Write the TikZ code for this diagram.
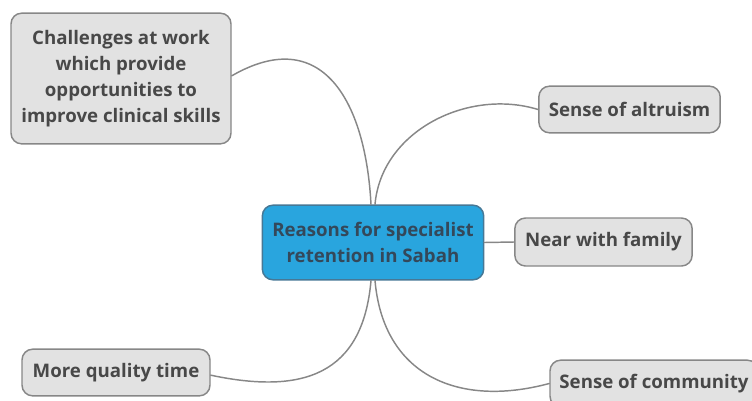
\documentclass[tikz,border=0pt]{standalone}
\usepackage{fontspec}
\setmainfont{Open Sans}
\definecolor{ebebeb}{RGB}{226,226,226}
\definecolor{grline}{RGB}{135,135,135}
\definecolor{grtext}{RGB}{72,72,72}
\definecolor{bluefill}{RGB}{41,165,222}
\definecolor{blueline}{RGB}{70,120,150}
\definecolor{bluetext}{RGB}{52,72,90}
\tikzset{
  topic/.style={draw=grline,line width=1.1pt,fill=ebebeb,rounded corners=8pt,
    text=grtext,font=\bfseries\fontsize{14}{19.5}\selectfont,align=center,inner sep=2pt},
  central/.style={topic,draw=blueline,fill=bluefill,text=bluetext},
  branch/.style={draw=grline,line width=1.1pt}
}
\begin{document}
\begin{tikzpicture}[line cap=round,line join=round,x=0.75pt,y=-0.75pt]
	\clip (0,0) rectangle (752,400);
	\useasboundingbox (0,0) rectangle (752,400);
	% nodes
	\node[central,minimum width=166pt,minimum height=56pt] (reasons) at (373,242.5) {Reasons for specialist\\retention in Sabah};
	\node[topic,minimum width=165pt,minimum height=98pt] (challenges) at (121,78.5) {Challenges at work\\which provide\\opportunities to\\improve clinical skills};
	\node[topic,minimum width=136pt,minimum height=35pt] (altruism) at (629.5,109.5) {Sense of altruism};
	\node[topic,minimum width=133pt,minimum height=36pt] (family) at (603.5,242) {Near with family};
	\node[topic,minimum width=141pt,minimum height=35pt] (quality) at (116,372.5) {More quality time};
	\node[topic,minimum width=156pt,minimum height=35pt] (community) at (654,383.5) {Sense of community};
	% branches
	\draw[branch] ([xshift=-1.5pt]reasons.north) to[out=93,in=30,looseness=1.4] ([yshift=2pt]challenges.east);
	\draw[branch] ([xshift=1.5pt]reasons.north) to[out=85,in=163] (altruism.west);
	\draw[branch] (reasons.east) -- (family.west);
	\draw[branch] ([xshift=-1.5pt]reasons.south) to[out=-95,in=-12,looseness=1.3] ([yshift=-2pt]quality.east);
	\draw[branch] ([xshift=1.5pt]reasons.south) to[out=-85,in=195,looseness=1.2] (community.west);
\end{tikzpicture}
\end{document}
